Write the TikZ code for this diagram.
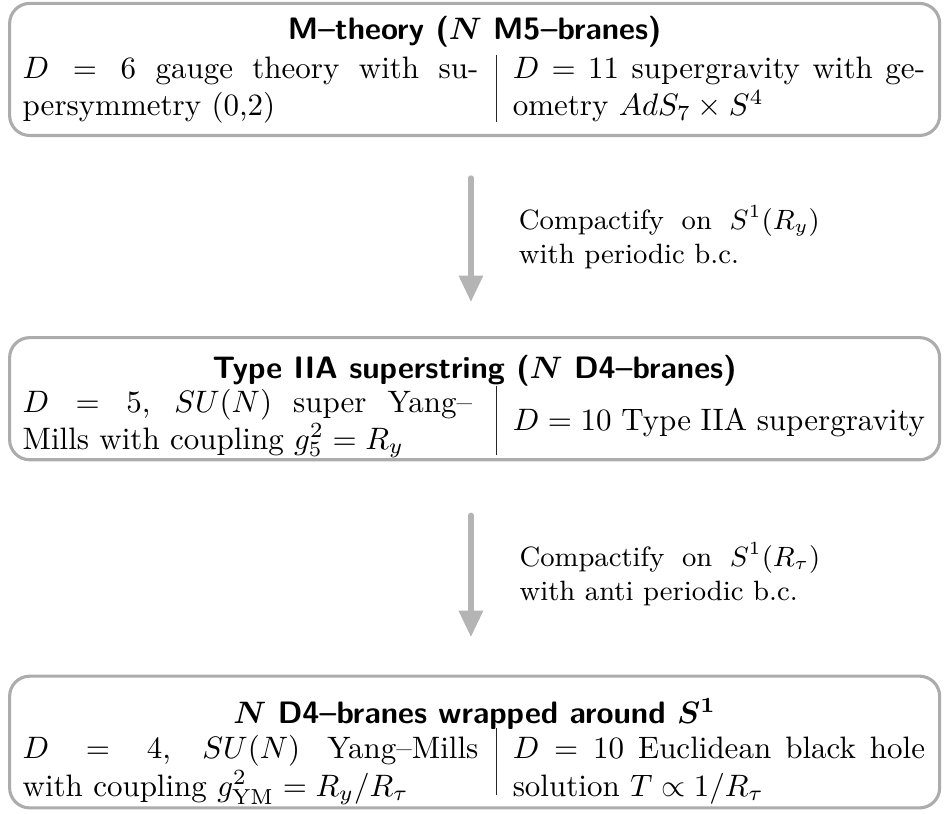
\documentclass[tikz,border=0pt]{standalone}
\usepackage{array}
\usetikzlibrary{arrows.meta,calc}
\definecolor{boxgray}{RGB}{172,172,172}
\definecolor{arrgray}{RGB}{180,180,180}
\newcolumntype{L}[1]{>{\arraybackslash}m{#1}}
\tikzset{
  stagebox/.style={draw=boxgray, line width=1pt, rounded corners=6.5pt,
    minimum width=300pt, inner sep=0pt, anchor=north west},
  headtext/.style={font=\sffamily\bfseries\boldmath, anchor=base, inner sep=0pt},
  bodytab/.style={anchor=north west, inner sep=0pt},
  divline/.style={draw=black!85, line width=0.45pt},
  steparrow/.style={draw=arrgray, line width=1.7pt, line cap=round,
    -{Triangle[width=7.5pt,length=8.5pt]}},
  arrlabel/.style={anchor=north west, inner sep=0pt, text width=97pt, align=justify,
    font=\small}
}
\begin{document}
\begin{tikzpicture}[x=1pt,y=-1pt]
\useasboundingbox (0,0) rectangle (304.5,262.3);
% box 1
\node[stagebox, minimum height=42.6pt] (b1) at (2.6,0.6) {};
\node[headtext] (t1) at ($(b1.north)+(0,12.3)$) {M--theory ($N$ M5--branes)};
\node[bodytab] (c1) at (7.1,16.8) {%
\begin{tabular}{@{}p{147pt}@{\hspace{11.1pt}}p{133pt}@{}}
$D=6$ gauge theory with su-\linebreak persymmetry (0,2) &
$D=11$ supergravity with ge-\linebreak ometry $AdS_7\times S^4$
\end{tabular}};
\coordinate (d1t) at (160.2,17.7);
\coordinate (d1b) at (160.2,39.4);
\draw[divline] (d1t) -- (d1b);
% box 2
\node[stagebox, minimum height=39.4pt] (b2) at (2.6,108.4) {};
\node[headtext] (t2) at ($(b2.north)+(0,13.6)$) {Type IIA superstring ($N$ D4--branes)};
\node[bodytab] (c2) at (7.1,124.3) {%
\begin{tabular}{@{}L{145pt}@{\hspace{13.1pt}}L{133pt}@{}}
$D=5$, $SU(N)$ super Yang--\linebreak Mills with coupling $g_5^2=R_y$ &
$D=10$ Type IIA supergravity
\end{tabular}};
\coordinate (d2t) at (160.2,124.5);
\coordinate (d2b) at (160.2,146.8);
\draw[divline] (d2t) -- (d2b);
% box 3
\node[stagebox, minimum height=42.5pt] (b3) at (2.6,217.6) {};
\node[headtext] (t3) at ($(b3.north)+(0,15.8)$) {$N$ D4--branes wrapped around $S^1$};
\node[bodytab] (c3) at (7.1,236.2) {%
\begin{tabular}{@{}p{147pt}@{\hspace{11.1pt}}p{133pt}@{}}
$D=4$, $SU(N)$ Yang--Mills\linebreak with coupling $g^2_{\mathrm{YM}}=R_y/R_\tau$ &
$D=10$ Euclidean black hole\linebreak solution $T\propto 1/R_\tau$
\end{tabular}};
\coordinate (d3t) at (160.2,234.8);
\coordinate (d3b) at (160.2,256.5);
\draw[divline] (d3t) -- (d3b);
% arrows
\coordinate (a1s) at ($(b1.south)+(-1.2,13.2)$);
\coordinate (a1e) at ($(b2.north)+(-1.2,-11.0)$);
\draw[steparrow] (a1s) -- (a1e);
\node[arrlabel] (l1) at (167.2,66.0) {\strut Compactify on $S^1(R_y)$\linebreak with periodic b.c.};
\coordinate (a2s) at ($(b2.south)+(-1.2,17.4)$);
\coordinate (a2e) at ($(b3.north)+(-1.2,-12.1)$);
\draw[steparrow] (a2s) -- (a2e);
\node[arrlabel] (l2) at (167.4,174.8) {\strut Compactify on $S^1(R_\tau)$\linebreak with anti periodic b.c.};
\end{tikzpicture}
\end{document}
